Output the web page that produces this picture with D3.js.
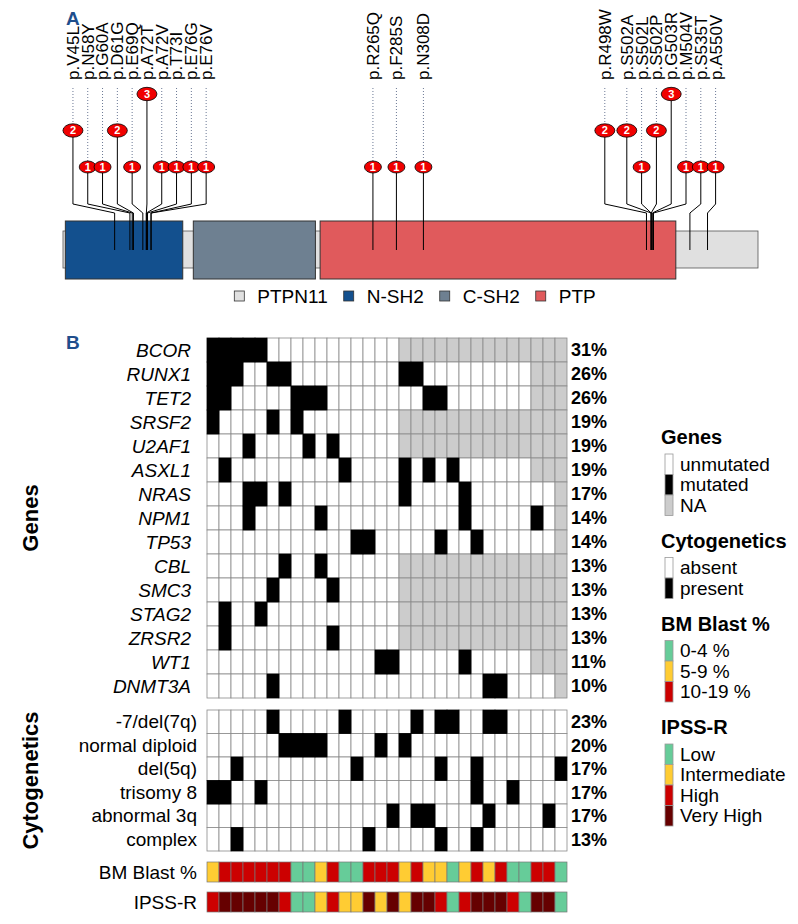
<!DOCTYPE html>
<html><head><meta charset="utf-8">
<script src="https://cdn.jsdelivr.net/npm/d3@7"></script>
<style>
body{margin:0;background:#fff}
svg{display:block;font-family:"Liberation Sans",Arial,Helvetica,sans-serif}
</style>
</head><body>
<svg id="chart" width="798" height="924"></svg>
<script>
// ================= DATA =================
// Panel A – PTPN11 lollipop
const proteinName = "PTPN11";
const proteinLength = 593;
const domainNames = ["N-SH2", "C-SH2", "PTP"];
const domainStart = [3, 112, 220];
const domainEnd = [103, 216, 523];
const mutLabels = ["p.V45L","p.N58Y","p.G60A","p.D61G","p.E69Q","p.A72T","p.A72V","p.T73I","p.E76G","p.E76V",
                   "p.R265Q","p.F285S","p.N308D",
                   "p.R498W","p.S502A","p.S502L","p.S502P","p.G503R","p.M504V","p.S535T","p.A550V"];
const mutPos   = [45,58,60,61,69,72,72,73,76,76, 265,285,308, 498,502,502,502,503,504,535,550];
const mutCount = [2,1,1,2,1,3,1,1,1,1, 1,1,1, 2,2,1,2,3,1,1,1];

// Panel B – oncoprint (30 patients). 1 = mutated/present, 0 = unmutated/absent, N = NA
const genes = ["BCOR","RUNX1","TET2","SRSF2","U2AF1","ASXL1","NRAS","NPM1","TP53","CBL","SMC3","STAG2","ZRSR2","WT1","DNMT3A"];
const genePct = ["31%","26%","26%","19%","19%","19%","17%","14%","14%","13%","13%","13%","13%","11%","10%"];
const geneCalls = [
  "1111100000000000NNNNNNNNNNNNNN",
  "111001100000000011000000000NNN",
  "110000011100000000110000000NNN",
  "1000010100000000NNNNNNNNNNNNNN",
  "0001000010100000NNNNNNNNNNNNNN",
  "010000000001000010101000000NNN",
  "00011010000000001000010000000N",
  "00010000010000000000010000010N",
  "00000000000011000001001000000N",
  "0000001001000000NNNNNNNNNNNNNN",
  "0000010000100000NNNNNNNNNNNNNN",
  "0100100000000000NNNNNNNNNNNNNN",
  "0100000000100000NNNNNNNNNNNNNN",
  "000000000000001100000100000NNN",
  "00000100000000000000000110000N"
];
const cytoNames = ["-7/del(7q)","normal diploid","del(5q)","trisomy 8","abnormal 3q","complex"];
const cytoPct = ["23%","20%","17%","17%","17%","13%"];
const cytoCalls = [
  "000001000001000001011001100000",
  "000000111100001010000000000000",
  "001000000000100000010010000001",
  "110010000000000000000010010000",
  "000000000000000101100001000010",
  "001000000000010000010010000000"
];
const blastLevels = ["0-4 %","5-9 %","10-19 %"];
const blastCat = [1,2,2,2,2,2,2,0,0,1,2,0,0,2,2,2,1,2,1,1,0,1,2,1,2,0,0,2,2,0];
const ipssLevels = ["Low","Intermediate","High","Very High"];
const ipssCat = [2,3,3,3,3,3,2,0,0,1,2,1,1,3,1,3,1,3,3,2,0,2,3,3,3,2,0,3,3,0];

// ================= STYLE =================
const domainColors = ["#13508e","#6e8091","#e05a5c"];
const backboneColor = "#e0e0e0";
const blastColors = ["#66cc99","#ffcc33","#cc0000"];
const ipssColors = ["#66cc99","#ffcc33","#cc0000","#660000"];
const titleBlue = "#1f4e8c";

const svg = d3.select("#chart");
svg.append("rect").attr("width",798).attr("height",924).attr("fill","#fff");

// ================= PANEL A =================
const gA = svg.append("g");
gA.append("text").attr("x",66).attr("y",25).attr("font-size",19).attr("font-weight","bold")
  .attr("fill",titleBlue).text("A");

const x = d3.scaleLinear().domain([1, proteinLength]).range([63, 758]);
const headY = d3.scaleLinear().domain([1, 3]).range([167, 94]);

// backbone
gA.append("rect").attr("x",x(1)).attr("y",231).attr("width",x(proteinLength)-x(1)).attr("height",37)
  .attr("fill",backboneColor).attr("stroke","#555").attr("stroke-width",0.8);
// domains
domainNames.forEach((d,i)=>{
  gA.append("rect").attr("x",x(domainStart[i])).attr("y",221)
    .attr("width",x(domainEnd[i])-x(domainStart[i])).attr("height",58)
    .attr("fill",domainColors[i]).attr("stroke","#333").attr("stroke-width",1);
});

const rx = c => c>1 ? 10 : 8.5;
const ry = c => c>1 ? 6.7 : 6;

// label layout (1D dodge of heads / labels)
const items = mutLabels.map((l,i)=>({label:l,pos:mutPos[i],count:mutCount[i],ideal:x(mutPos[i])}));
const labelGap = 14.8;
const gapBetween = (a,b) => (a.count===b.count && a.count>1) ? Math.max(labelGap, rx(a.count)+rx(b.count)+2) : labelGap;
let clusters = items.map(it=>({m:[it]}));
function place(c){
  const off = [0];
  for(let i=1;i<c.m.length;i++) off.push(off[i-1] + gapBetween(c.m[i-1], c.m[i]));
  const shift = d3.mean(c.m, d=>d.ideal) - d3.mean(off);
  c.m.forEach((d,i)=>{ d.hx = off[i] + shift; });
}
clusters.forEach(place);
let merged = true;
while(merged){
  merged = false;
  for(let i=0;i<clusters.length-1;i++){
    const a = clusters[i], b = clusters[i+1];
    const la = a.m[a.m.length-1], fb = b.m[0];
    if(fb.hx - la.hx < gapBetween(la, fb) - 1e-6){
      a.m = a.m.concat(b.m); clusters.splice(i+1,1); place(a); merged = true; break;
    }
  }
}

// dotted connectors from labels to heads
gA.selectAll(".dot").data(items).join("line")
  .attr("x1",d=>d.hx).attr("x2",d=>d.hx).attr("y1",88).attr("y2",d=>headY(d.count)-ry(d.count))
  .attr("stroke","#6b7894").attr("stroke-width",1).attr("stroke-dasharray","1,2");
// stems
gA.selectAll(".stem").data(items).join("path")
  .attr("d",d=>`M${d.hx},${headY(d.count)}L${d.hx},204L${d.ideal},213L${d.ideal},250`)
  .attr("fill","none").attr("stroke","#000").attr("stroke-width",1);
// heads
const heads = gA.selectAll(".head").data(items).join("g");
heads.append("ellipse").attr("cx",d=>d.hx).attr("cy",d=>headY(d.count))
  .attr("rx",d=>rx(d.count)).attr("ry",d=>ry(d.count))
  .attr("fill","#f00000").attr("stroke","#000").attr("stroke-width",0.8);
heads.append("text").attr("x",d=>d.hx).attr("y",d=>headY(d.count)).attr("dy","0.36em")
  .attr("text-anchor","middle").attr("font-size",11).attr("font-weight","bold").attr("fill","#fff")
  .text(d=>d.count);
// labels
gA.selectAll(".lab").data(items).join("text")
  .attr("transform",d=>`translate(${d.hx},80) rotate(-90)`)
  .attr("dy","0.35em").attr("font-size",17).attr("fill","#000").text(d=>d.label);

// legend A
const legA = [{name:proteinName,color:backboneColor}].concat(domainNames.map((n,i)=>({name:n,color:domainColors[i]})));
const legG = gA.append("g");
let lx = 0;
legA.forEach(it=>{
  const g = legG.append("g").attr("transform",`translate(${lx},0)`);
  g.append("rect").attr("x",0).attr("y",-5).attr("width",10).attr("height",10)
    .attr("fill",it.color).attr("stroke","#333").attr("stroke-width",0.8);
  const t = g.append("text").attr("x",23).attr("y",0).attr("dy","0.35em").attr("font-size",19).text(it.name);
  lx += 23 + t.node().getComputedTextLength() + 16;
});
const legW = lx - 16;
legG.attr("transform",`translate(${415 - legW/2},296)`);

// ================= PANEL B =================
const gB = svg.append("g");
gB.append("text").attr("x",66).attr("y",349).attr("font-size",19).attr("font-weight","bold")
  .attr("fill",titleBlue).text("B");

const nPat = geneCalls[0].length;
const col = d3.scaleBand().domain(d3.range(nPat)).range([207,567]);
const geneRow = d3.scaleBand().domain(genes).range([338,698]);
const cytoRow = d3.scaleBand().domain(cytoNames).range([710,851]);
const clinRow = d3.scaleBand().domain(["BM Blast %","IPSS-R"]).range([862,912]).paddingInner(1/3).paddingOuter(0);

function drawMatrix(names, calls, rowScale){
  const cells = [];
  names.forEach((n,r)=>calls[r].split("").forEach((v,c)=>cells.push({n,c,v})));
  cells.sort((a,b)=>(a.v==="1")-(b.v==="1"));
  gB.append("g").selectAll("rect").data(cells).join("rect")
    .attr("x",d=>col(d.c)).attr("y",d=>rowScale(d.n))
    .attr("width",col.bandwidth()).attr("height",rowScale.bandwidth())
    .attr("fill",d=>d.v==="1"?"#000":d.v==="N"?"#cccccc":"#fff")
    .attr("stroke",d=>d.v==="1"?"#000":"#8a8a8a").attr("stroke-width",0.8);
}
drawMatrix(genes, geneCalls, geneRow);
drawMatrix(cytoNames, cytoCalls, cytoRow);

// clinical bars
function drawClin(name, cats, colors){
  gB.append("g").selectAll("rect").data(cats).join("rect")
    .attr("x",(d,i)=>col(i)).attr("y",clinRow(name))
    .attr("width",col.bandwidth()).attr("height",clinRow.bandwidth())
    .attr("fill",d=>colors[d]).attr("stroke","#777").attr("stroke-width",0.7);
}
drawClin("BM Blast %", blastCat, blastColors);
drawClin("IPSS-R", ipssCat, ipssColors);

// row labels
gB.selectAll(".gl").data(genes).join("text")
  .attr("x",191).attr("y",d=>geneRow(d)+geneRow.bandwidth()/2).attr("dy","0.35em")
  .attr("text-anchor","end").attr("font-size",19).attr("font-style","italic").text(d=>d);
gB.selectAll(".cl").data(cytoNames).join("text")
  .attr("x",197).attr("y",d=>cytoRow(d)+cytoRow.bandwidth()/2).attr("dy","0.35em")
  .attr("text-anchor","end").attr("font-size",19).text(d=>d);
gB.selectAll(".kl").data(clinRow.domain()).join("text")
  .attr("x",197).attr("y",d=>clinRow(d)+clinRow.bandwidth()/2).attr("dy","0.35em")
  .attr("text-anchor","end").attr("font-size",19).text(d=>d);

// percentages
gB.selectAll(".gp").data(genes).join("text")
  .attr("x",571).attr("y",d=>geneRow(d)+geneRow.bandwidth()/2).attr("dy","0.35em")
  .attr("font-size",18).attr("font-weight","bold").text((d,i)=>genePct[i]);
gB.selectAll(".cp").data(cytoNames).join("text")
  .attr("x",571).attr("y",d=>cytoRow(d)+cytoRow.bandwidth()/2).attr("dy","0.35em")
  .attr("font-size",18).attr("font-weight","bold").text((d,i)=>cytoPct[i]);

// group titles
gB.append("text").attr("transform",`translate(38,${(geneRow.range()[0]+geneRow.range()[1])/2}) rotate(-90)`)
  .attr("text-anchor","middle").attr("font-size",22).attr("font-weight","bold").text("Genes");
gB.append("text").attr("transform",`translate(38,${(cytoRow.range()[0]+cytoRow.range()[1])/2}) rotate(-90)`)
  .attr("text-anchor","middle").attr("font-size",22).attr("font-weight","bold").text("Cytogenetics");

// legend B
const legends = [
  {title:"Genes", labels:["unmutated","mutated","NA"], colors:["#fff","#000","#cccccc"]},
  {title:"Cytogenetics", labels:["absent","present"], colors:["#fff","#000"]},
  {title:"BM Blast %", labels:blastLevels, colors:blastColors},
  {title:"IPSS-R", labels:ipssLevels, colors:ipssColors}
];
let ly = 437;
const itemH = 20.5;
legends.forEach(L=>{
  gB.append("text").attr("x",661).attr("y",ly).attr("dy","0.35em")
    .attr("font-size",20).attr("font-weight","bold").text(L.title);
  const top = ly + 17;
  L.labels.forEach((lab,i)=>{
    gB.append("rect").attr("x",665).attr("y",top+i*itemH).attr("width",8).attr("height",itemH)
      .attr("fill",L.colors[i]).attr("stroke","#999").attr("stroke-width",0.8);
    gB.append("text").attr("x",680).attr("y",top+i*itemH+itemH/2).attr("dy","0.35em")
      .attr("font-size",19).text(lab);
  });
  ly = top + L.labels.length*itemH + 25;
});
</script>
</body></html>
